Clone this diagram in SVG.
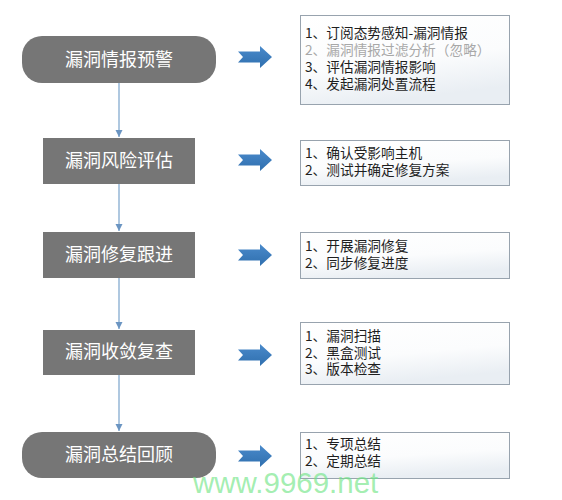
<svg xmlns="http://www.w3.org/2000/svg" width="562" height="500" viewBox="0 0 562 500">
<style>
.node{fill:#767676}
.nt{font-family:"Microsoft YaHei","Noto Sans CJK SC",sans-serif;font-size:18px;fill:#ffffff;text-anchor:middle}
.box{fill:url(#boxg);stroke:#98a3ae;stroke-width:1}
.bt{font-family:"Microsoft YaHei","Noto Sans CJK SC",sans-serif;font-size:13.7px;fill:#1e1e1e}
.gray{fill:#a8a8a8}
.conn{stroke:#7aa3cc;stroke-width:1.2;fill:none}
.barrow{fill:url(#arrg)}
.wm{font-family:"Liberation Sans",Arial,sans-serif;font-size:29.5px;fill:#6fe585;fill-opacity:0.65}
</style>
<defs>
<linearGradient id="boxg" x1="0" y1="0" x2="0.3" y2="1">
<stop offset="0" stop-color="#ffffff"/>
<stop offset="0.6" stop-color="#fbfcfd"/>
<stop offset="1" stop-color="#e9eef3"/>
</linearGradient>
<linearGradient id="arrg" x1="0" y1="0" x2="0" y2="1">
<stop offset="0" stop-color="#4a8acb"/>
<stop offset="1" stop-color="#2f6fae"/>
</linearGradient>
<marker id="ah" markerWidth="8" markerHeight="8" refX="7" refY="4" orient="auto" markerUnits="userSpaceOnUse">
<path d="M0,0.5 L7,4 L0,7.5 Z" fill="#6b95c2"/>
</marker>
<path id="blk" d="M0,5.5 L22,5.5 L22,0 L34,11 L22,22 L22,16.5 L0,16.5 L5,11 Z"/>
</defs>

<g id="connectors">
<line class="conn" x1="119" y1="83" x2="119" y2="137" marker-end="url(#ah)"/>
<line class="conn" x1="119" y1="184" x2="119" y2="231" marker-end="url(#ah)"/>
<line class="conn" x1="119" y1="278" x2="119" y2="329" marker-end="url(#ah)"/>
<line class="conn" x1="119" y1="375" x2="119" y2="431" marker-end="url(#ah)"/>
<use href="#blk" class="barrow" x="238" y="46"/>
<use href="#blk" class="barrow" x="238" y="149"/>
<use href="#blk" class="barrow" x="238" y="244"/>
<use href="#blk" class="barrow" x="238" y="344"/>
<use href="#blk" class="barrow" x="238" y="445"/>
</g>

<g id="n1"><rect class="node" x="22" y="36" width="194" height="47" rx="20"/><text class="nt" x="119" y="66">漏洞情报预警</text></g>
<g id="n2"><rect class="node" x="43" y="138" width="152" height="46"/><text class="nt" x="119" y="167">漏洞风险评估</text></g>
<g id="n3"><rect class="node" x="43" y="232" width="152" height="46"/><text class="nt" x="119" y="261">漏洞修复跟进</text></g>
<g id="n4"><rect class="node" x="43" y="330" width="152" height="45"/><text class="nt" x="119" y="358">漏洞收敛复查</text></g>
<g id="n5"><rect class="node" x="22" y="432" width="194" height="46" rx="20"/><text class="nt" x="119" y="461">漏洞总结回顾</text></g>

<g id="b1"><rect class="box" x="300.5" y="15.5" width="209" height="89"/>
<text class="bt" x="305" y="38">1、订阅态势感知-漏洞情报</text>
<text class="bt gray" x="305" y="55">2、漏洞情报过滤分析（忽略）</text>
<text class="bt" x="305" y="72">3、评估漏洞情报影响</text>
<text class="bt" x="305" y="89">4、发起漏洞处置流程</text></g>
<g id="b2"><rect class="box" x="300.5" y="140.5" width="209" height="45"/>
<text class="bt" x="305" y="158">1、确认受影响主机</text>
<text class="bt" x="305" y="175">2、测试并确定修复方案</text></g>
<g id="b3"><rect class="box" x="300.5" y="232.5" width="209" height="46"/>
<text class="bt" x="305" y="251">1、开展漏洞修复</text>
<text class="bt" x="305" y="268">2、同步修复进度</text></g>
<g id="b4"><rect class="box" x="300.5" y="322.5" width="209" height="62"/>
<text class="bt" x="305" y="341">1、漏洞扫描</text>
<text class="bt" x="305" y="358">2、黑盒测试</text>
<text class="bt" x="305" y="374">3、版本检查</text></g>
<g id="b5"><rect class="box" x="300.5" y="432.5" width="209" height="46"/>
<text class="bt" x="305" y="449">1、专项总结</text>
<text class="bt" x="305" y="466">2、定期总结</text></g>

<text class="wm" x="193" y="493">www.9969.net</text>
</svg>
